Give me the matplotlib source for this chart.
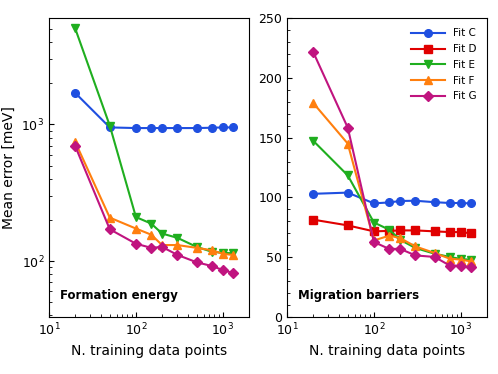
#!/usr/bin/env python3
"""
Mean error vs number of training points, formation energy and migration barriers
"""

import numpy as np
import matplotlib
matplotlib.use('Agg')
import matplotlib.pyplot as plt
from matplotlib.ticker import LogLocator, MultipleLocator, NullFormatter

# Training set sizes
n_train = [20, 50, 100, 150, 200, 300, 500, 750, 1000, 1300]

# Formation energy errors (meV), log scale
form_C = [1700, 950, 940, 940, 940, 940, 940, 945, 950, 950]
form_E = [5040, 980, 210, 188, 159, 148, 127, 117, 115, 114]
form_F = [745, 208, 173, 156, 131, 131, 125, 120, 113, 111]
form_G = [695, 171, 134, 125, 127, 111, 98, 92, 86, 82]

# Migration barrier errors (meV)
mig_C = [103, 104, 95, 95.8, 97, 97.2, 96, 95.3, 95.3, 95]
mig_D = [81.4, 76.6, 71.6, 72, 72.4, 72.4, 71.6, 71, 71, 70]
mig_E = [147.4, 118.4, 79, 73, 64.6, 57.7, 52.9, 50.2, 48.5, 47.9]
mig_F = [179, 145, 64, 68, 66, 59, 53.5, 48.7, 48, 46.5]
mig_G = [221.6, 158.3, 62.7, 56.9, 57, 51.5, 50.2, 42.9, 43, 41.5]

styles = {
    'Fit C': dict(color='#1f4fe0', marker='o'),
    'Fit D': dict(color='#e00000', marker='s'),
    'Fit E': dict(color='#1fae1f', marker='v'),
    'Fit F': dict(color='#ff7f0e', marker='^'),
    'Fit G': dict(color='#c0147f', marker='D'),
}

fig = plt.figure(figsize=(4.98, 3.74), dpi=100)
ax1 = fig.add_axes([49/498, 1-317/374, 200/498, 299/374])
ax2 = fig.add_axes([287/498, 1-317/374, 200/498, 299/374])

def draw(ax, label, y):
    st = styles[label]
    ax.plot(n_train, y, color=st['color'], marker=st['marker'], markersize=5.5,
            linewidth=1.5, label=label)

# Left panel
draw(ax1, 'Fit C', form_C)
draw(ax1, 'Fit E', form_E)
draw(ax1, 'Fit F', form_F)
draw(ax1, 'Fit G', form_G)
ax1.set_xscale('log')
ax1.set_yscale('log')
ax1.set_xlim(10, 2000)
ax1.set_ylim(39, 6000)
ax1.set_ylabel('Mean error [meV]', fontsize=10)
ax1.set_xlabel('N. training data points', fontsize=10)
ax1.text(0.055, 0.06, 'Formation energy', transform=ax1.transAxes,
         fontsize=8.5, fontweight='bold')

# Right panel
draw(ax2, 'Fit C', mig_C)
draw(ax2, 'Fit D', mig_D)
draw(ax2, 'Fit E', mig_E)
draw(ax2, 'Fit F', mig_F)
draw(ax2, 'Fit G', mig_G)
ax2.set_xscale('log')
ax2.set_xlim(10, 2000)
ax2.set_ylim(0, 250)
ax2.yaxis.set_major_locator(MultipleLocator(50))
ax2.yaxis.set_minor_locator(MultipleLocator(10))
ax2.set_xlabel('N. training data points', fontsize=10)
ax2.text(0.055, 0.06, 'Migration barriers', transform=ax2.transAxes,
         fontsize=8.5, fontweight='bold')
ax2.legend(loc='upper right', frameon=False, fontsize=7.5,
           handlelength=3.2, borderaxespad=0.6, labelspacing=0.55)

for ax in (ax1, ax2):
    ax.tick_params(which='both', direction='in', labelsize=9)
    ax.tick_params(which='major', length=3.5)
    ax.tick_params(which='minor', length=2)
    ax.xaxis.set_minor_locator(LogLocator(base=10, subs=np.arange(2, 10)))
    ax.xaxis.set_minor_formatter(NullFormatter())

plt.savefig('out.png', dpi=100)
